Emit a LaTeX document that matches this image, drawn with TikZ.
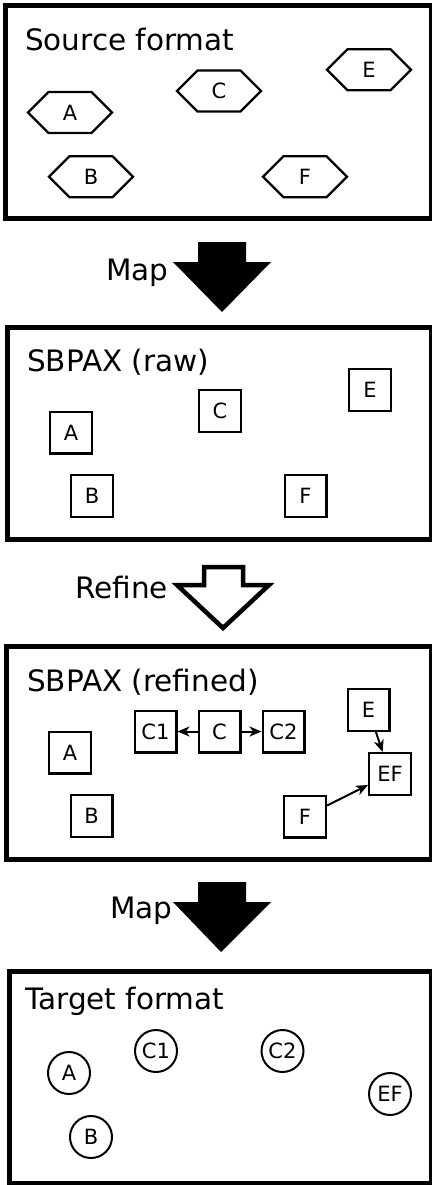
\documentclass[tikz,border=0pt]{standalone}
\usepackage{fontspec}
\setmainfont{DejaVu Sans}
\usetikzlibrary{shapes.symbols,arrows.meta}

\newcommand{\bigtxt}{\fontsize{29.5}{35}\selectfont}
\newcommand{\smalltxt}{\fontsize{21}{25}\selectfont}

\tikzstyle{panel}=[draw,line width=5pt]
\tikzstyle{title}=[anchor=base west,inner sep=0pt,font=\bigtxt]
\tikzstyle{hexa}=[shape=signal,signal to=east and west,draw,line width=2.3pt,minimum width=84pt,minimum height=41pt,inner sep=0pt,font=\smalltxt]
\tikzstyle{entity}=[shape=rectangle,draw,line width=2.3pt,minimum size=41.7pt,inner sep=0pt,font=\smalltxt]
\tikzstyle{term}=[shape=circle,draw,line width=2pt,minimum size=42pt,inner sep=0pt,font=\smalltxt]

\begin{document}
\begin{tikzpicture}[x=1pt,y=-1pt,>={Stealth[length=12pt,width=10pt,inset=3.5pt]}]
        \useasboundingbox (0,0) rectangle (431,1185);

        % source format
        \draw[panel] (5.8,5.8) rectangle (431,218);
        \node[title] (t1) at (25,51) {Source format};
        \node[hexa] (sa) at (70,112.5) {A};
        \node[hexa] (sb) at (91,176.7) {B};
        \node[hexa] (sc) at (219,91) {C};
        \node[hexa] (se) at (369,69.7) {E};
        \node[hexa] (sf) at (305,176.7) {F};

        % map
        \node[title] (m1) at (106,280) {Map};
        \fill (198,242) -- (246,242) -- (246,262) -- (271,262) -- (222,312)
            -- (173,262) -- (198,262) -- cycle;

        % SBPAX raw
        \draw[panel] (7.5,327) rectangle (431,539);
        \node[title] (t2) at (27,371) {SBPAX (raw)};
        \node[entity] (ra) at (71,432.5) {A};
        \node[entity] (rb) at (92,496) {B};
        \node[entity] (rc) at (220,411) {C};
        \node[entity] (re) at (370,390) {E};
        \node[entity] (rf) at (305.5,496) {F};

        % refine
        \node[title] (r1) at (75,598) {Refine};
        \draw[line width=4.5pt,fill=white] (204,567) -- (243,567) -- (243,585)
            -- (269,585) -- (223,628) -- (177,585) -- (204,585) -- cycle;

        % SBPAX refined
        \draw[panel] (6.5,646.5) rectangle (431,859);
        \node[title] (t3) at (27,691) {SBPAX (refined)};
        \node[entity] (fa) at (70,752.5) {A};
        \node[entity] (fb) at (91.5,816) {B};
        \node[entity] (fc1) at (155.5,731.5) {C1};
        \node[entity] (fc) at (219.5,731.5) {C};
        \node[entity] (fc2) at (283.5,731.5) {C2};
        \node[entity] (fe) at (368.5,710) {E};
        \node[entity] (fef) at (390,774) {EF};
        \node[entity] (ff) at (305,816.5) {F};
        \draw[->,line width=2pt] (fc) -- (fc1);
        \draw[->,line width=2pt] (fc) -- (fc2);
        \draw[->,line width=2pt] (fe) -- (fef);
        \draw[->,line width=2pt] (ff) -- (fef);

        % map
        \node[title] (m2) at (110,918) {Map};
        \fill (198,882) -- (246,882) -- (246,902) -- (271,902) -- (221,952)
            -- (173,902) -- (198,902) -- cycle;

        % target format
        \draw[panel] (9.7,971) rectangle (431,1183);
        \node[title] (t4) at (25,1009) {Target format};
        \node[term] (ta) at (69,1073) {A};
        \node[term] (tb) at (91,1137) {B};
        \node[term] (tc1) at (156,1051) {C1};
        \node[term] (tc2) at (282.5,1051) {C2};
        \node[term] (tef) at (390,1094) {EF};
    \end{tikzpicture}
\end{document}
